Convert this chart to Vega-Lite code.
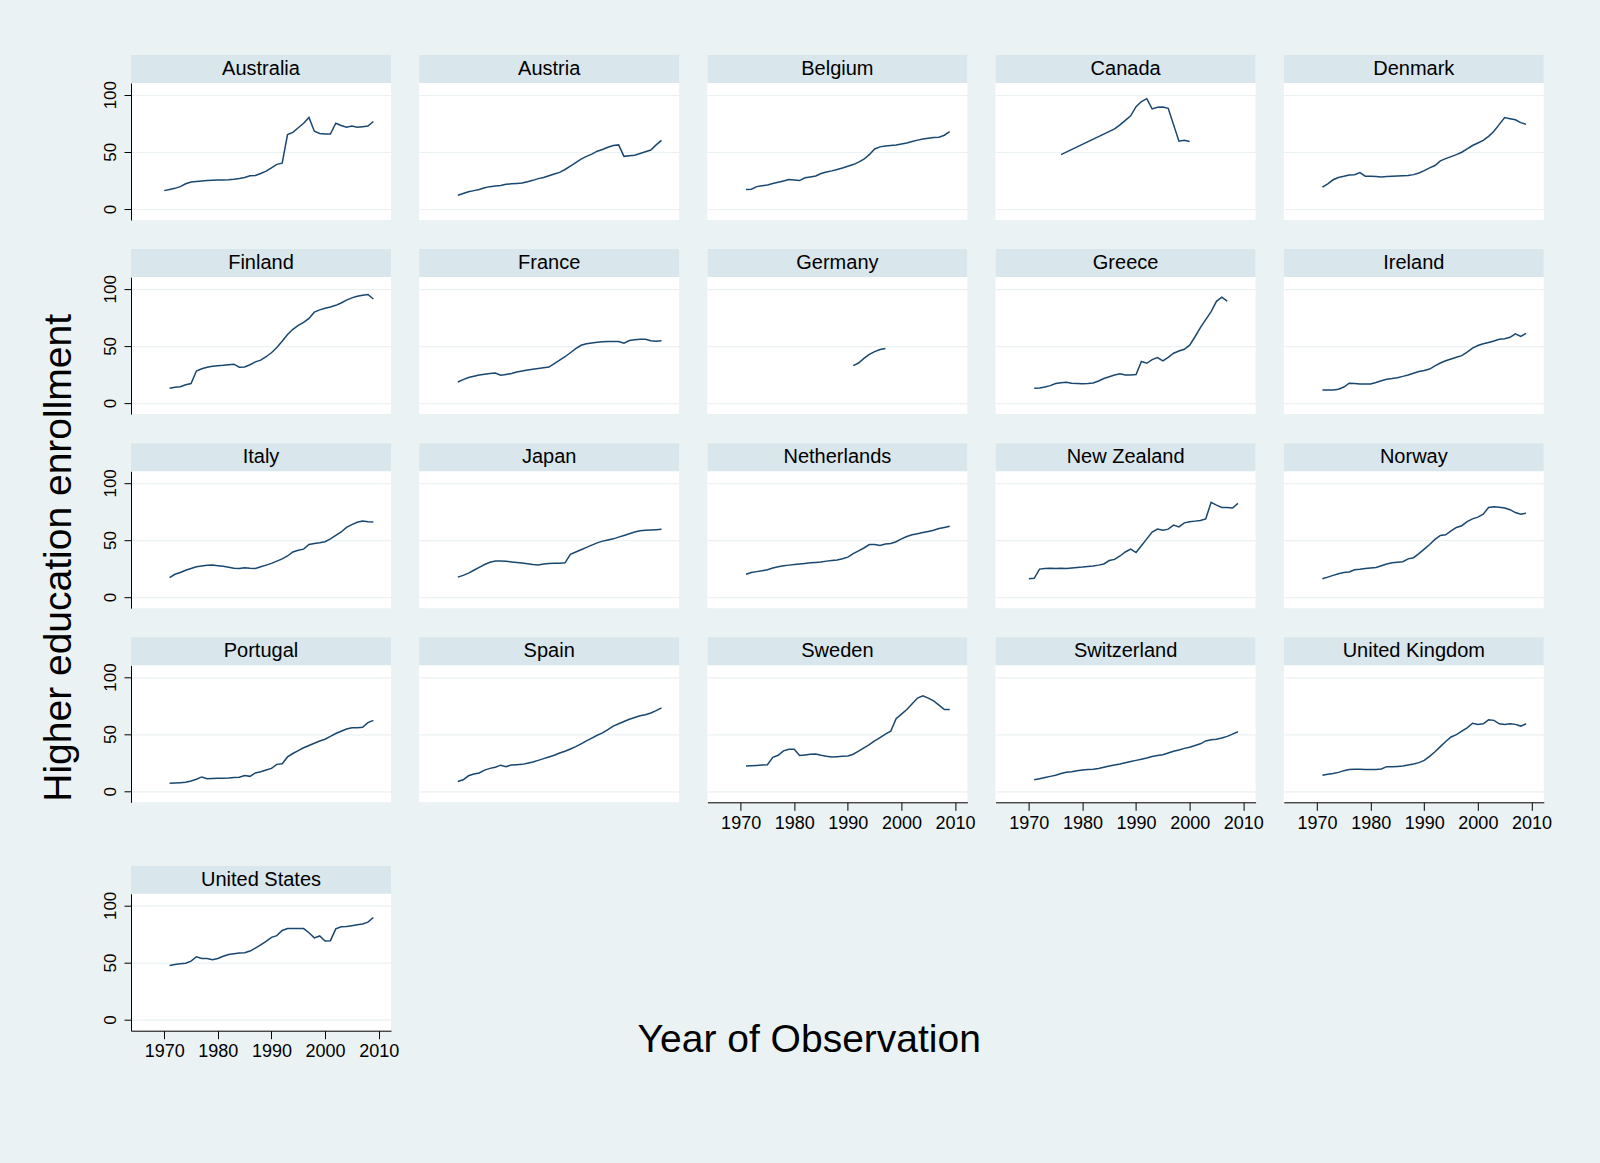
{
  "$schema": "https://vega.github.io/schema/vega-lite/v6.json",
  "background": "#EAF2F3",
  "padding": {"left": 39, "top": 55, "right": 51, "bottom": 105},
  "autosize": {"type": "pad"},
  "config": {
    "font": "Liberation Sans",
    "view": {"stroke": null, "fill": "#FFFFFF"},
    "axis": {"domainColor": "#000000", "tickColor": "#000000", "labelColor": "#000000", "labelFont": "Liberation Sans", "labelFontSize": 17, "gridColor": "#EAF2F3", "gridWidth": 1.2, "domainWidth": 1, "tickWidth": 1},
    "title": {"font": "Liberation Sans", "fontSize": 39, "fontWeight": "normal", "color": "#000000"}
  },
  "datasets": {
    "enroll": [
      {"country":"Australia","year":1970,"value":16},{"country":"Australia","year":1971,"value":17},{"country":"Australia","year":1972,"value":18},{"country":"Australia","year":1973,"value":19.5},{"country":"Australia","year":1974,"value":22},{"country":"Australia","year":1975,"value":23.5},{"country":"Australia","year":1976,"value":24},{"country":"Australia","year":1977,"value":24.5},{"country":"Australia","year":1978,"value":24.8},{"country":"Australia","year":1979,"value":25},{"country":"Australia","year":1980,"value":25.2},{"country":"Australia","year":1981,"value":25.4},{"country":"Australia","year":1982,"value":25.6},{"country":"Australia","year":1983,"value":26},{"country":"Australia","year":1984,"value":26.6},{"country":"Australia","year":1985,"value":27.5},{"country":"Australia","year":1986,"value":29},{"country":"Australia","year":1987,"value":29.2},{"country":"Australia","year":1988,"value":31},{"country":"Australia","year":1989,"value":33},{"country":"Australia","year":1990,"value":36},{"country":"Australia","year":1991,"value":39},{"country":"Australia","year":1992,"value":40},{"country":"Australia","year":1993,"value":65},{"country":"Australia","year":1994,"value":67},{"country":"Australia","year":1995,"value":71},{"country":"Australia","year":1996,"value":75},{"country":"Australia","year":1997,"value":80},{"country":"Australia","year":1998,"value":68},{"country":"Australia","year":1999,"value":66},{"country":"Australia","year":2000,"value":65.5},{"country":"Australia","year":2001,"value":65.5},{"country":"Australia","year":2002,"value":75},{"country":"Australia","year":2003,"value":73},{"country":"Australia","year":2004,"value":71.5},{"country":"Australia","year":2005,"value":72.5},{"country":"Australia","year":2006,"value":71.5},{"country":"Australia","year":2007,"value":72},{"country":"Australia","year":2008,"value":72.5},{"country":"Australia","year":2009,"value":76.5},
      {"country":"Austria","year":1971,"value":12},{"country":"Austria","year":1972,"value":13.5},{"country":"Austria","year":1973,"value":15},{"country":"Austria","year":1974,"value":16},{"country":"Austria","year":1975,"value":17},{"country":"Austria","year":1976,"value":18.5},{"country":"Austria","year":1977,"value":19.5},{"country":"Austria","year":1978,"value":20},{"country":"Austria","year":1979,"value":20.5},{"country":"Austria","year":1980,"value":21.5},{"country":"Austria","year":1981,"value":22},{"country":"Austria","year":1982,"value":22.3},{"country":"Austria","year":1983,"value":22.7},{"country":"Austria","year":1984,"value":23.8},{"country":"Austria","year":1985,"value":25},{"country":"Austria","year":1986,"value":26.5},{"country":"Austria","year":1987,"value":27.5},{"country":"Austria","year":1988,"value":29},{"country":"Austria","year":1989,"value":30.5},{"country":"Austria","year":1990,"value":32},{"country":"Austria","year":1991,"value":34.5},{"country":"Austria","year":1992,"value":37.5},{"country":"Austria","year":1993,"value":40.5},{"country":"Austria","year":1994,"value":43.5},{"country":"Austria","year":1995,"value":46},{"country":"Austria","year":1996,"value":48},{"country":"Austria","year":1997,"value":50.5},{"country":"Austria","year":1998,"value":52},{"country":"Austria","year":1999,"value":54},{"country":"Austria","year":2000,"value":55.5},{"country":"Austria","year":2001,"value":56},{"country":"Austria","year":2002,"value":46},{"country":"Austria","year":2003,"value":46.5},{"country":"Austria","year":2004,"value":47},{"country":"Austria","year":2005,"value":48.5},{"country":"Austria","year":2006,"value":50},{"country":"Austria","year":2007,"value":51.5},{"country":"Austria","year":2008,"value":56},{"country":"Austria","year":2009,"value":60},
      {"country":"Belgium","year":1971,"value":17},{"country":"Belgium","year":1972,"value":17.3},{"country":"Belgium","year":1973,"value":19.5},{"country":"Belgium","year":1974,"value":20.3},{"country":"Belgium","year":1975,"value":21},{"country":"Belgium","year":1976,"value":22.2},{"country":"Belgium","year":1977,"value":23.3},{"country":"Belgium","year":1978,"value":24.5},{"country":"Belgium","year":1979,"value":25.7},{"country":"Belgium","year":1980,"value":25.3},{"country":"Belgium","year":1981,"value":24.8},{"country":"Belgium","year":1982,"value":27.2},{"country":"Belgium","year":1983,"value":28},{"country":"Belgium","year":1984,"value":28.8},{"country":"Belgium","year":1985,"value":31},{"country":"Belgium","year":1986,"value":32.3},{"country":"Belgium","year":1987,"value":33.3},{"country":"Belgium","year":1988,"value":34.5},{"country":"Belgium","year":1989,"value":35.8},{"country":"Belgium","year":1990,"value":37.3},{"country":"Belgium","year":1991,"value":38.8},{"country":"Belgium","year":1992,"value":41},{"country":"Belgium","year":1993,"value":43.5},{"country":"Belgium","year":1994,"value":47.5},{"country":"Belgium","year":1995,"value":52.5},{"country":"Belgium","year":1996,"value":54.3},{"country":"Belgium","year":1997,"value":55},{"country":"Belgium","year":1998,"value":55.5},{"country":"Belgium","year":1999,"value":56},{"country":"Belgium","year":2000,"value":56.8},{"country":"Belgium","year":2001,"value":57.7},{"country":"Belgium","year":2002,"value":59},{"country":"Belgium","year":2003,"value":60.2},{"country":"Belgium","year":2004,"value":61.2},{"country":"Belgium","year":2005,"value":61.8},{"country":"Belgium","year":2006,"value":62.4},{"country":"Belgium","year":2007,"value":62.8},{"country":"Belgium","year":2008,"value":64.5},{"country":"Belgium","year":2009,"value":67.6},
      {"country":"Canada","year":1976,"value":47.5},{"country":"Canada","year":1986,"value":70},{"country":"Canada","year":1987,"value":73.5},{"country":"Canada","year":1988,"value":77.5},{"country":"Canada","year":1989,"value":81.5},{"country":"Canada","year":1990,"value":89.5},{"country":"Canada","year":1991,"value":94},{"country":"Canada","year":1992,"value":96.5},{"country":"Canada","year":1993,"value":87.5},{"country":"Canada","year":1994,"value":89},{"country":"Canada","year":1995,"value":89.2},{"country":"Canada","year":1996,"value":88},{"country":"Canada","year":1998,"value":59.2},{"country":"Canada","year":1999,"value":60},{"country":"Canada","year":2000,"value":59},
      {"country":"Denmark","year":1971,"value":19},{"country":"Denmark","year":1972,"value":22},{"country":"Denmark","year":1973,"value":25.5},{"country":"Denmark","year":1974,"value":27.5},{"country":"Denmark","year":1975,"value":28.5},{"country":"Denmark","year":1976,"value":29.7},{"country":"Denmark","year":1977,"value":30},{"country":"Denmark","year":1978,"value":31.8},{"country":"Denmark","year":1979,"value":28.6},{"country":"Denmark","year":1980,"value":28.6},{"country":"Denmark","year":1981,"value":28.4},{"country":"Denmark","year":1982,"value":28},{"country":"Denmark","year":1983,"value":28.3},{"country":"Denmark","year":1984,"value":28.6},{"country":"Denmark","year":1985,"value":28.8},{"country":"Denmark","year":1986,"value":29},{"country":"Denmark","year":1987,"value":29.3},{"country":"Denmark","year":1988,"value":30},{"country":"Denmark","year":1989,"value":31.5},{"country":"Denmark","year":1990,"value":33.5},{"country":"Denmark","year":1991,"value":35.9},{"country":"Denmark","year":1992,"value":38},{"country":"Denmark","year":1993,"value":42},{"country":"Denmark","year":1994,"value":44},{"country":"Denmark","year":1995,"value":45.8},{"country":"Denmark","year":1996,"value":47.5},{"country":"Denmark","year":1997,"value":49.6},{"country":"Denmark","year":1998,"value":52.5},{"country":"Denmark","year":1999,"value":55.5},{"country":"Denmark","year":2000,"value":57.7},{"country":"Denmark","year":2001,"value":60},{"country":"Denmark","year":2002,"value":63.5},{"country":"Denmark","year":2003,"value":68},{"country":"Denmark","year":2004,"value":74},{"country":"Denmark","year":2005,"value":80},{"country":"Denmark","year":2006,"value":79},{"country":"Denmark","year":2007,"value":78},{"country":"Denmark","year":2008,"value":75.5},{"country":"Denmark","year":2009,"value":74},
      {"country":"Finland","year":1971,"value":13},{"country":"Finland","year":1972,"value":13.8},{"country":"Finland","year":1973,"value":14.3},{"country":"Finland","year":1974,"value":16},{"country":"Finland","year":1975,"value":17},{"country":"Finland","year":1976,"value":28},{"country":"Finland","year":1977,"value":30},{"country":"Finland","year":1978,"value":31.3},{"country":"Finland","year":1979,"value":32.2},{"country":"Finland","year":1980,"value":32.7},{"country":"Finland","year":1981,"value":33},{"country":"Finland","year":1982,"value":33.5},{"country":"Finland","year":1983,"value":34},{"country":"Finland","year":1984,"value":31.3},{"country":"Finland","year":1985,"value":31.6},{"country":"Finland","year":1986,"value":33.5},{"country":"Finland","year":1987,"value":36},{"country":"Finland","year":1988,"value":37.5},{"country":"Finland","year":1989,"value":40.5},{"country":"Finland","year":1990,"value":44},{"country":"Finland","year":1991,"value":48.5},{"country":"Finland","year":1992,"value":54},{"country":"Finland","year":1993,"value":60},{"country":"Finland","year":1994,"value":64.5},{"country":"Finland","year":1995,"value":68},{"country":"Finland","year":1996,"value":70.5},{"country":"Finland","year":1997,"value":74},{"country":"Finland","year":1998,"value":79.5},{"country":"Finland","year":1999,"value":81.5},{"country":"Finland","year":2000,"value":83},{"country":"Finland","year":2001,"value":84},{"country":"Finland","year":2002,"value":85.5},{"country":"Finland","year":2003,"value":87.5},{"country":"Finland","year":2004,"value":90},{"country":"Finland","year":2005,"value":92},{"country":"Finland","year":2006,"value":93.5},{"country":"Finland","year":2007,"value":94.3},{"country":"Finland","year":2008,"value":95},{"country":"Finland","year":2009,"value":91},
      {"country":"France","year":1971,"value":18.4},{"country":"France","year":1972,"value":20.5},{"country":"France","year":1973,"value":22.3},{"country":"France","year":1974,"value":23.5},{"country":"France","year":1975,"value":24.5},{"country":"France","year":1976,"value":25.2},{"country":"France","year":1977,"value":25.8},{"country":"France","year":1978,"value":26.3},{"country":"France","year":1979,"value":24.3},{"country":"France","year":1980,"value":25},{"country":"France","year":1981,"value":25.8},{"country":"France","year":1982,"value":27.2},{"country":"France","year":1983,"value":28},{"country":"France","year":1984,"value":28.8},{"country":"France","year":1985,"value":29.5},{"country":"France","year":1986,"value":30.2},{"country":"France","year":1987,"value":30.8},{"country":"France","year":1988,"value":31.5},{"country":"France","year":1989,"value":34.5},{"country":"France","year":1990,"value":37.5},{"country":"France","year":1991,"value":40.5},{"country":"France","year":1992,"value":44},{"country":"France","year":1993,"value":47.5},{"country":"France","year":1994,"value":50.5},{"country":"France","year":1995,"value":51.8},{"country":"France","year":1996,"value":52.6},{"country":"France","year":1997,"value":53.2},{"country":"France","year":1998,"value":53.6},{"country":"France","year":1999,"value":53.8},{"country":"France","year":2000,"value":53.8},{"country":"France","year":2001,"value":53.8},{"country":"France","year":2002,"value":52.3},{"country":"France","year":2003,"value":54.7},{"country":"France","year":2004,"value":55.3},{"country":"France","year":2005,"value":55.7},{"country":"France","year":2006,"value":55.8},{"country":"France","year":2007,"value":54.5},{"country":"France","year":2008,"value":54.1},{"country":"France","year":2009,"value":54.4},
      {"country":"Germany","year":1991,"value":32.7},{"country":"Germany","year":1992,"value":35},{"country":"Germany","year":1993,"value":39},{"country":"Germany","year":1994,"value":42.5},{"country":"Germany","year":1995,"value":45},{"country":"Germany","year":1996,"value":46.8},{"country":"Germany","year":1997,"value":47.7},
      {"country":"Greece","year":1971,"value":13},{"country":"Greece","year":1972,"value":13.2},{"country":"Greece","year":1973,"value":14},{"country":"Greece","year":1974,"value":15.2},{"country":"Greece","year":1975,"value":17},{"country":"Greece","year":1976,"value":17.8},{"country":"Greece","year":1977,"value":18.1},{"country":"Greece","year":1978,"value":17.3},{"country":"Greece","year":1979,"value":17},{"country":"Greece","year":1980,"value":16.8},{"country":"Greece","year":1981,"value":17},{"country":"Greece","year":1982,"value":17.5},{"country":"Greece","year":1983,"value":19.3},{"country":"Greece","year":1984,"value":21.5},{"country":"Greece","year":1985,"value":23},{"country":"Greece","year":1986,"value":24.5},{"country":"Greece","year":1987,"value":25.7},{"country":"Greece","year":1988,"value":24.6},{"country":"Greece","year":1989,"value":24.5},{"country":"Greece","year":1990,"value":25},{"country":"Greece","year":1991,"value":36.3},{"country":"Greece","year":1992,"value":34.8},{"country":"Greece","year":1993,"value":38},{"country":"Greece","year":1994,"value":39.8},{"country":"Greece","year":1995,"value":36.8},{"country":"Greece","year":1996,"value":40},{"country":"Greece","year":1997,"value":43.6},{"country":"Greece","year":1998,"value":45.5},{"country":"Greece","year":1999,"value":47},{"country":"Greece","year":2000,"value":50.6},{"country":"Greece","year":2001,"value":58},{"country":"Greece","year":2002,"value":66},{"country":"Greece","year":2003,"value":73},{"country":"Greece","year":2004,"value":80},{"country":"Greece","year":2005,"value":89},{"country":"Greece","year":2006,"value":92.7},{"country":"Greece","year":2007,"value":89.2},
      {"country":"Ireland","year":1971,"value":11.4},{"country":"Ireland","year":1972,"value":11.4},{"country":"Ireland","year":1973,"value":11.5},{"country":"Ireland","year":1974,"value":12},{"country":"Ireland","year":1975,"value":14},{"country":"Ireland","year":1976,"value":17.3},{"country":"Ireland","year":1977,"value":17},{"country":"Ireland","year":1978,"value":16.7},{"country":"Ireland","year":1979,"value":16.6},{"country":"Ireland","year":1980,"value":16.7},{"country":"Ireland","year":1981,"value":18},{"country":"Ireland","year":1982,"value":19.5},{"country":"Ireland","year":1983,"value":20.8},{"country":"Ireland","year":1984,"value":21.4},{"country":"Ireland","year":1985,"value":22.2},{"country":"Ireland","year":1986,"value":23.3},{"country":"Ireland","year":1987,"value":24.5},{"country":"Ireland","year":1988,"value":26},{"country":"Ireland","year":1989,"value":27.5},{"country":"Ireland","year":1990,"value":28.5},{"country":"Ireland","year":1991,"value":29.7},{"country":"Ireland","year":1992,"value":32.5},{"country":"Ireland","year":1993,"value":35},{"country":"Ireland","year":1994,"value":37},{"country":"Ireland","year":1995,"value":38.5},{"country":"Ireland","year":1996,"value":40},{"country":"Ireland","year":1997,"value":41.5},{"country":"Ireland","year":1998,"value":44.5},{"country":"Ireland","year":1999,"value":48},{"country":"Ireland","year":2000,"value":50.3},{"country":"Ireland","year":2001,"value":51.8},{"country":"Ireland","year":2002,"value":53},{"country":"Ireland","year":2003,"value":54.3},{"country":"Ireland","year":2004,"value":55.8},{"country":"Ireland","year":2005,"value":56.3},{"country":"Ireland","year":2006,"value":57.5},{"country":"Ireland","year":2007,"value":60.5},{"country":"Ireland","year":2008,"value":58.2},{"country":"Ireland","year":2009,"value":61},
      {"country":"Italy","year":1971,"value":17},{"country":"Italy","year":1972,"value":20},{"country":"Italy","year":1973,"value":21.5},{"country":"Italy","year":1974,"value":23.5},{"country":"Italy","year":1975,"value":25},{"country":"Italy","year":1976,"value":26.5},{"country":"Italy","year":1977,"value":27.2},{"country":"Italy","year":1978,"value":27.8},{"country":"Italy","year":1979,"value":28},{"country":"Italy","year":1980,"value":27.5},{"country":"Italy","year":1981,"value":27},{"country":"Italy","year":1982,"value":26.2},{"country":"Italy","year":1983,"value":25.3},{"country":"Italy","year":1984,"value":25},{"country":"Italy","year":1985,"value":25.8},{"country":"Italy","year":1986,"value":25.3},{"country":"Italy","year":1987,"value":25},{"country":"Italy","year":1988,"value":26.5},{"country":"Italy","year":1989,"value":28},{"country":"Italy","year":1990,"value":29.5},{"country":"Italy","year":1991,"value":31.5},{"country":"Italy","year":1992,"value":33.5},{"country":"Italy","year":1993,"value":36},{"country":"Italy","year":1994,"value":39.5},{"country":"Italy","year":1995,"value":41},{"country":"Italy","year":1996,"value":42},{"country":"Italy","year":1997,"value":46},{"country":"Italy","year":1998,"value":47},{"country":"Italy","year":1999,"value":47.5},{"country":"Italy","year":2000,"value":48.5},{"country":"Italy","year":2001,"value":51},{"country":"Italy","year":2002,"value":54},{"country":"Italy","year":2003,"value":57},{"country":"Italy","year":2004,"value":61},{"country":"Italy","year":2005,"value":63.5},{"country":"Italy","year":2006,"value":65.5},{"country":"Italy","year":2007,"value":66.5},{"country":"Italy","year":2008,"value":66},{"country":"Italy","year":2009,"value":65.8},
      {"country":"Japan","year":1971,"value":17.5},{"country":"Japan","year":1972,"value":19},{"country":"Japan","year":1973,"value":21},{"country":"Japan","year":1974,"value":23.5},{"country":"Japan","year":1975,"value":26},{"country":"Japan","year":1976,"value":28.5},{"country":"Japan","year":1977,"value":30.5},{"country":"Japan","year":1978,"value":31.5},{"country":"Japan","year":1979,"value":31.6},{"country":"Japan","year":1980,"value":31.4},{"country":"Japan","year":1981,"value":30.8},{"country":"Japan","year":1982,"value":30.3},{"country":"Japan","year":1983,"value":29.8},{"country":"Japan","year":1984,"value":29.3},{"country":"Japan","year":1985,"value":28.5},{"country":"Japan","year":1986,"value":28.2},{"country":"Japan","year":1987,"value":29},{"country":"Japan","year":1988,"value":29.5},{"country":"Japan","year":1989,"value":29.6},{"country":"Japan","year":1990,"value":29.7},{"country":"Japan","year":1991,"value":30},{"country":"Japan","year":1992,"value":37.5},{"country":"Japan","year":1993,"value":39.5},{"country":"Japan","year":1994,"value":41.5},{"country":"Japan","year":1995,"value":43.5},{"country":"Japan","year":1996,"value":45.5},{"country":"Japan","year":1997,"value":47.5},{"country":"Japan","year":1998,"value":49},{"country":"Japan","year":1999,"value":50},{"country":"Japan","year":2000,"value":51},{"country":"Japan","year":2001,"value":52.5},{"country":"Japan","year":2002,"value":54},{"country":"Japan","year":2003,"value":55.5},{"country":"Japan","year":2004,"value":57},{"country":"Japan","year":2005,"value":58},{"country":"Japan","year":2006,"value":58.5},{"country":"Japan","year":2007,"value":58.7},{"country":"Japan","year":2008,"value":59},{"country":"Japan","year":2009,"value":59.3},
      {"country":"Netherlands","year":1971,"value":20},{"country":"Netherlands","year":1972,"value":21.5},{"country":"Netherlands","year":1973,"value":22.3},{"country":"Netherlands","year":1974,"value":23},{"country":"Netherlands","year":1975,"value":24},{"country":"Netherlands","year":1976,"value":25.5},{"country":"Netherlands","year":1977,"value":26.5},{"country":"Netherlands","year":1978,"value":27.5},{"country":"Netherlands","year":1979,"value":28},{"country":"Netherlands","year":1980,"value":28.5},{"country":"Netherlands","year":1981,"value":29},{"country":"Netherlands","year":1982,"value":29.5},{"country":"Netherlands","year":1983,"value":30},{"country":"Netherlands","year":1984,"value":30.3},{"country":"Netherlands","year":1985,"value":30.7},{"country":"Netherlands","year":1986,"value":31.5},{"country":"Netherlands","year":1987,"value":32},{"country":"Netherlands","year":1988,"value":32.5},{"country":"Netherlands","year":1989,"value":33.5},{"country":"Netherlands","year":1990,"value":35},{"country":"Netherlands","year":1991,"value":38},{"country":"Netherlands","year":1992,"value":40.5},{"country":"Netherlands","year":1993,"value":43},{"country":"Netherlands","year":1994,"value":46},{"country":"Netherlands","year":1995,"value":46},{"country":"Netherlands","year":1996,"value":45.2},{"country":"Netherlands","year":1997,"value":46.5},{"country":"Netherlands","year":1998,"value":47},{"country":"Netherlands","year":1999,"value":48.5},{"country":"Netherlands","year":2000,"value":51},{"country":"Netherlands","year":2001,"value":53},{"country":"Netherlands","year":2002,"value":54.5},{"country":"Netherlands","year":2003,"value":55.5},{"country":"Netherlands","year":2004,"value":56.5},{"country":"Netherlands","year":2005,"value":57.5},{"country":"Netherlands","year":2006,"value":58.5},{"country":"Netherlands","year":2007,"value":60},{"country":"Netherlands","year":2008,"value":61},{"country":"Netherlands","year":2009,"value":62},
      {"country":"New Zealand","year":1970,"value":16},{"country":"New Zealand","year":1971,"value":16.5},{"country":"New Zealand","year":1972,"value":24.5},{"country":"New Zealand","year":1973,"value":25},{"country":"New Zealand","year":1974,"value":25.3},{"country":"New Zealand","year":1975,"value":25},{"country":"New Zealand","year":1976,"value":25.3},{"country":"New Zealand","year":1977,"value":25},{"country":"New Zealand","year":1978,"value":25.5},{"country":"New Zealand","year":1979,"value":26},{"country":"New Zealand","year":1980,"value":26.3},{"country":"New Zealand","year":1981,"value":26.8},{"country":"New Zealand","year":1982,"value":27.2},{"country":"New Zealand","year":1983,"value":28},{"country":"New Zealand","year":1984,"value":29},{"country":"New Zealand","year":1985,"value":32},{"country":"New Zealand","year":1986,"value":33},{"country":"New Zealand","year":1987,"value":36},{"country":"New Zealand","year":1988,"value":39.5},{"country":"New Zealand","year":1989,"value":42},{"country":"New Zealand","year":1990,"value":39},{"country":"New Zealand","year":1991,"value":45},{"country":"New Zealand","year":1992,"value":51},{"country":"New Zealand","year":1993,"value":57},{"country":"New Zealand","year":1994,"value":59.5},{"country":"New Zealand","year":1995,"value":58.5},{"country":"New Zealand","year":1996,"value":59.5},{"country":"New Zealand","year":1997,"value":63},{"country":"New Zealand","year":1998,"value":61.5},{"country":"New Zealand","year":1999,"value":65},{"country":"New Zealand","year":2000,"value":66},{"country":"New Zealand","year":2001,"value":66.5},{"country":"New Zealand","year":2002,"value":67},{"country":"New Zealand","year":2003,"value":68.5},{"country":"New Zealand","year":2004,"value":83},{"country":"New Zealand","year":2005,"value":80.5},{"country":"New Zealand","year":2006,"value":78.5},{"country":"New Zealand","year":2007,"value":78.5},{"country":"New Zealand","year":2008,"value":78},{"country":"New Zealand","year":2009,"value":82},
      {"country":"Norway","year":1971,"value":16},{"country":"Norway","year":1972,"value":17.5},{"country":"Norway","year":1973,"value":19},{"country":"Norway","year":1974,"value":20.5},{"country":"Norway","year":1975,"value":21.5},{"country":"Norway","year":1976,"value":22},{"country":"Norway","year":1977,"value":24},{"country":"Norway","year":1978,"value":24.3},{"country":"Norway","year":1979,"value":25},{"country":"Norway","year":1980,"value":25.5},{"country":"Norway","year":1981,"value":26},{"country":"Norway","year":1982,"value":27.5},{"country":"Norway","year":1983,"value":29},{"country":"Norway","year":1984,"value":30},{"country":"Norway","year":1985,"value":30.5},{"country":"Norway","year":1986,"value":31},{"country":"Norway","year":1987,"value":33.5},{"country":"Norway","year":1988,"value":34.5},{"country":"Norway","year":1989,"value":38},{"country":"Norway","year":1990,"value":42},{"country":"Norway","year":1991,"value":46},{"country":"Norway","year":1992,"value":50.5},{"country":"Norway","year":1993,"value":54},{"country":"Norway","year":1994,"value":54.5},{"country":"Norway","year":1995,"value":58},{"country":"Norway","year":1996,"value":61},{"country":"Norway","year":1997,"value":62.5},{"country":"Norway","year":1998,"value":66},{"country":"Norway","year":1999,"value":68.5},{"country":"Norway","year":2000,"value":70},{"country":"Norway","year":2001,"value":72.5},{"country":"Norway","year":2002,"value":78.5},{"country":"Norway","year":2003,"value":79},{"country":"Norway","year":2004,"value":78.7},{"country":"Norway","year":2005,"value":78},{"country":"Norway","year":2006,"value":76.5},{"country":"Norway","year":2007,"value":74},{"country":"Norway","year":2008,"value":72.5},{"country":"Norway","year":2009,"value":73.5},
      {"country":"Portugal","year":1971,"value":7},{"country":"Portugal","year":1972,"value":7.2},{"country":"Portugal","year":1973,"value":7.5},{"country":"Portugal","year":1974,"value":7.8},{"country":"Portugal","year":1975,"value":9},{"country":"Portugal","year":1976,"value":10.5},{"country":"Portugal","year":1977,"value":12.5},{"country":"Portugal","year":1978,"value":11},{"country":"Portugal","year":1979,"value":11.2},{"country":"Portugal","year":1980,"value":11.3},{"country":"Portugal","year":1981,"value":11.3},{"country":"Portugal","year":1982,"value":11.5},{"country":"Portugal","year":1983,"value":12},{"country":"Portugal","year":1984,"value":12.2},{"country":"Portugal","year":1985,"value":13.8},{"country":"Portugal","year":1986,"value":13},{"country":"Portugal","year":1987,"value":16},{"country":"Portugal","year":1988,"value":17},{"country":"Portugal","year":1989,"value":18.5},{"country":"Portugal","year":1990,"value":20},{"country":"Portugal","year":1991,"value":23.5},{"country":"Portugal","year":1992,"value":24},{"country":"Portugal","year":1993,"value":30},{"country":"Portugal","year":1994,"value":33},{"country":"Portugal","year":1995,"value":35.5},{"country":"Portugal","year":1996,"value":38},{"country":"Portugal","year":1997,"value":40},{"country":"Portugal","year":1998,"value":42},{"country":"Portugal","year":1999,"value":44},{"country":"Portugal","year":2000,"value":45.5},{"country":"Portugal","year":2001,"value":48},{"country":"Portugal","year":2002,"value":50.5},{"country":"Portugal","year":2003,"value":52.5},{"country":"Portugal","year":2004,"value":54.5},{"country":"Portugal","year":2005,"value":55.5},{"country":"Portugal","year":2006,"value":55.5},{"country":"Portugal","year":2007,"value":56},{"country":"Portugal","year":2008,"value":60},{"country":"Portugal","year":2009,"value":62},
      {"country":"Spain","year":1971,"value":8.5},{"country":"Spain","year":1972,"value":10},{"country":"Spain","year":1973,"value":13.5},{"country":"Spain","year":1974,"value":15},{"country":"Spain","year":1975,"value":16},{"country":"Spain","year":1976,"value":18.5},{"country":"Spain","year":1977,"value":20},{"country":"Spain","year":1978,"value":21},{"country":"Spain","year":1979,"value":22.8},{"country":"Spain","year":1980,"value":21.5},{"country":"Spain","year":1981,"value":23},{"country":"Spain","year":1982,"value":23.2},{"country":"Spain","year":1983,"value":23.5},{"country":"Spain","year":1984,"value":24.5},{"country":"Spain","year":1985,"value":25.5},{"country":"Spain","year":1986,"value":27},{"country":"Spain","year":1987,"value":28.5},{"country":"Spain","year":1988,"value":30},{"country":"Spain","year":1989,"value":31.5},{"country":"Spain","year":1990,"value":33.5},{"country":"Spain","year":1991,"value":35},{"country":"Spain","year":1992,"value":37},{"country":"Spain","year":1993,"value":39},{"country":"Spain","year":1994,"value":41.5},{"country":"Spain","year":1995,"value":44},{"country":"Spain","year":1996,"value":46.5},{"country":"Spain","year":1997,"value":49},{"country":"Spain","year":1998,"value":51},{"country":"Spain","year":1999,"value":54},{"country":"Spain","year":2000,"value":57},{"country":"Spain","year":2001,"value":59},{"country":"Spain","year":2002,"value":61},{"country":"Spain","year":2003,"value":63},{"country":"Spain","year":2004,"value":64.5},{"country":"Spain","year":2005,"value":66},{"country":"Spain","year":2006,"value":67},{"country":"Spain","year":2007,"value":68.5},{"country":"Spain","year":2008,"value":70.5},{"country":"Spain","year":2009,"value":73},
      {"country":"Sweden","year":1971,"value":22},{"country":"Sweden","year":1972,"value":22.3},{"country":"Sweden","year":1973,"value":22.6},{"country":"Sweden","year":1974,"value":22.9},{"country":"Sweden","year":1975,"value":23.2},{"country":"Sweden","year":1976,"value":29.7},{"country":"Sweden","year":1977,"value":31.5},{"country":"Sweden","year":1978,"value":35.3},{"country":"Sweden","year":1979,"value":36.8},{"country":"Sweden","year":1980,"value":36.8},{"country":"Sweden","year":1981,"value":31.3},{"country":"Sweden","year":1982,"value":31.8},{"country":"Sweden","year":1983,"value":32.3},{"country":"Sweden","year":1984,"value":32.6},{"country":"Sweden","year":1985,"value":31.5},{"country":"Sweden","year":1986,"value":30.6},{"country":"Sweden","year":1987,"value":30},{"country":"Sweden","year":1988,"value":30.2},{"country":"Sweden","year":1989,"value":30.5},{"country":"Sweden","year":1990,"value":30.9},{"country":"Sweden","year":1991,"value":32.4},{"country":"Sweden","year":1992,"value":35},{"country":"Sweden","year":1993,"value":38},{"country":"Sweden","year":1994,"value":40.8},{"country":"Sweden","year":1995,"value":44},{"country":"Sweden","year":1996,"value":47},{"country":"Sweden","year":1997,"value":50},{"country":"Sweden","year":1998,"value":52.5},{"country":"Sweden","year":1999,"value":63.5},{"country":"Sweden","year":2000,"value":67.5},{"country":"Sweden","year":2001,"value":71.5},{"country":"Sweden","year":2002,"value":76.5},{"country":"Sweden","year":2003,"value":81.5},{"country":"Sweden","year":2004,"value":83.5},{"country":"Sweden","year":2005,"value":81.5},{"country":"Sweden","year":2006,"value":79},{"country":"Sweden","year":2007,"value":75.3},{"country":"Sweden","year":2008,"value":71.5},{"country":"Sweden","year":2009,"value":71.5},
      {"country":"Switzerland","year":1971,"value":10},{"country":"Switzerland","year":1972,"value":11},{"country":"Switzerland","year":1973,"value":12},{"country":"Switzerland","year":1974,"value":13},{"country":"Switzerland","year":1975,"value":14},{"country":"Switzerland","year":1976,"value":15.5},{"country":"Switzerland","year":1977,"value":16.5},{"country":"Switzerland","year":1978,"value":17},{"country":"Switzerland","year":1979,"value":18},{"country":"Switzerland","year":1980,"value":18.5},{"country":"Switzerland","year":1981,"value":19},{"country":"Switzerland","year":1982,"value":19.3},{"country":"Switzerland","year":1983,"value":19.8},{"country":"Switzerland","year":1984,"value":21},{"country":"Switzerland","year":1985,"value":22},{"country":"Switzerland","year":1986,"value":23},{"country":"Switzerland","year":1987,"value":23.8},{"country":"Switzerland","year":1988,"value":25},{"country":"Switzerland","year":1989,"value":26},{"country":"Switzerland","year":1990,"value":27},{"country":"Switzerland","year":1991,"value":28},{"country":"Switzerland","year":1992,"value":29},{"country":"Switzerland","year":1993,"value":30.3},{"country":"Switzerland","year":1994,"value":31.3},{"country":"Switzerland","year":1995,"value":32},{"country":"Switzerland","year":1996,"value":33.5},{"country":"Switzerland","year":1997,"value":35},{"country":"Switzerland","year":1998,"value":36},{"country":"Switzerland","year":1999,"value":37.5},{"country":"Switzerland","year":2000,"value":38.5},{"country":"Switzerland","year":2001,"value":40},{"country":"Switzerland","year":2002,"value":41.5},{"country":"Switzerland","year":2003,"value":44},{"country":"Switzerland","year":2004,"value":45},{"country":"Switzerland","year":2005,"value":45.5},{"country":"Switzerland","year":2006,"value":46.5},{"country":"Switzerland","year":2007,"value":48},{"country":"Switzerland","year":2008,"value":50},{"country":"Switzerland","year":2009,"value":52},
      {"country":"United Kingdom","year":1971,"value":14},{"country":"United Kingdom","year":1972,"value":14.8},{"country":"United Kingdom","year":1973,"value":15.5},{"country":"United Kingdom","year":1974,"value":16.5},{"country":"United Kingdom","year":1975,"value":18},{"country":"United Kingdom","year":1976,"value":19},{"country":"United Kingdom","year":1977,"value":19.2},{"country":"United Kingdom","year":1978,"value":19.2},{"country":"United Kingdom","year":1979,"value":19},{"country":"United Kingdom","year":1980,"value":19},{"country":"United Kingdom","year":1981,"value":19},{"country":"United Kingdom","year":1982,"value":19.5},{"country":"United Kingdom","year":1983,"value":21.5},{"country":"United Kingdom","year":1984,"value":21.5},{"country":"United Kingdom","year":1985,"value":21.7},{"country":"United Kingdom","year":1986,"value":22},{"country":"United Kingdom","year":1987,"value":23},{"country":"United Kingdom","year":1988,"value":23.8},{"country":"United Kingdom","year":1989,"value":25},{"country":"United Kingdom","year":1990,"value":27},{"country":"United Kingdom","year":1991,"value":30.5},{"country":"United Kingdom","year":1992,"value":34.5},{"country":"United Kingdom","year":1993,"value":39},{"country":"United Kingdom","year":1994,"value":43.5},{"country":"United Kingdom","year":1995,"value":47.5},{"country":"United Kingdom","year":1996,"value":49.5},{"country":"United Kingdom","year":1997,"value":52.5},{"country":"United Kingdom","year":1998,"value":55.5},{"country":"United Kingdom","year":1999,"value":59.5},{"country":"United Kingdom","year":2000,"value":58.5},{"country":"United Kingdom","year":2001,"value":59},{"country":"United Kingdom","year":2002,"value":62.5},{"country":"United Kingdom","year":2003,"value":62},{"country":"United Kingdom","year":2004,"value":59},{"country":"United Kingdom","year":2005,"value":58.5},{"country":"United Kingdom","year":2006,"value":59},{"country":"United Kingdom","year":2007,"value":58.5},{"country":"United Kingdom","year":2008,"value":57},{"country":"United Kingdom","year":2009,"value":59},
      {"country":"United States","year":1971,"value":47.4},{"country":"United States","year":1972,"value":48.2},{"country":"United States","year":1973,"value":48.8},{"country":"United States","year":1974,"value":49.3},{"country":"United States","year":1975,"value":51.2},{"country":"United States","year":1976,"value":55},{"country":"United States","year":1977,"value":53.5},{"country":"United States","year":1978,"value":53.5},{"country":"United States","year":1979,"value":52.4},{"country":"United States","year":1980,"value":53.5},{"country":"United States","year":1981,"value":55.5},{"country":"United States","year":1982,"value":57},{"country":"United States","year":1983,"value":57.6},{"country":"United States","year":1984,"value":58.2},{"country":"United States","year":1985,"value":58.6},{"country":"United States","year":1986,"value":60},{"country":"United States","year":1987,"value":62.5},{"country":"United States","year":1988,"value":65.5},{"country":"United States","year":1989,"value":68.5},{"country":"United States","year":1990,"value":72},{"country":"United States","year":1991,"value":73.5},{"country":"United States","year":1992,"value":78},{"country":"United States","year":1993,"value":79.7},{"country":"United States","year":1994,"value":79.8},{"country":"United States","year":1995,"value":79.8},{"country":"United States","year":1996,"value":79.7},{"country":"United States","year":1997,"value":76},{"country":"United States","year":1998,"value":71.5},{"country":"United States","year":1999,"value":73.2},{"country":"United States","year":2000,"value":68.8},{"country":"United States","year":2001,"value":69.1},{"country":"United States","year":2002,"value":79.4},{"country":"United States","year":2003,"value":81.2},{"country":"United States","year":2004,"value":81.5},{"country":"United States","year":2005,"value":82.2},{"country":"United States","year":2006,"value":83},{"country":"United States","year":2007,"value":83.7},{"country":"United States","year":2008,"value":85.3},{"country":"United States","year":2009,"value":89.4}
    ]
  },
  "data": {"name": "enroll"},
  "title": {"text": "Higher education enrollment", "orient": "left", "anchor": "middle", "offset": 22},
  "vconcat": [
    {
      "title": {"text": "Year of Observation", "orient": "bottom", "anchor": "middle", "dy": -44, "dx": -17},
      "spacing": 32.7,
      "vconcat": [
        {
          "spacing": 29.1,
          "vconcat": [
            {"spacing": 28.2, "hconcat": [
              {"width": 260, "height": 165, "transform": [{"filter": {"field": "country", "equal": "Australia"}}], "layer": [
                {"transform": [{"aggregate": [{"op": "count", "as": "n"}], "groupby": ["country"]}], "mark": {"type": "rect", "color": "#D9E6EB"}, "encoding": {"x": {"datum": 1963.8, "type": "quantitative", "axis": null}, "x2": {"datum": 2012.3}, "y": {"datum": 110.2, "type": "quantitative", "axis": {"orient": "left", "values": [0, 50, 100], "title": null, "labelAngle": 270, "labelAlign": "center", "labelBaseline": "bottom", "tickSize": 7, "labelPadding": 5, "grid": true, "domainDash": [137, 200]}}, "y2": {"datum": 134.7}}},
                {"transform": [{"aggregate": [{"op": "count", "as": "n"}], "groupby": ["country"]}], "mark": {"type": "text", "fontSize": 20, "color": "#000000", "font": "Liberation Sans"}, "encoding": {"x": {"datum": 1988.05, "type": "quantitative", "axis": null}, "y": {"datum": 122.45, "type": "quantitative", "axis": {"orient": "left", "values": [0, 50, 100], "title": null, "labelAngle": 270, "labelAlign": "center", "labelBaseline": "bottom", "tickSize": 7, "labelPadding": 5, "grid": true, "domainDash": [137, 200]}}, "text": {"field": "country"}}},
                {"mark": {"type": "line", "color": "#1A476F", "strokeWidth": 1.5}, "encoding": {"x": {"field": "year", "type": "quantitative", "scale": {"domain": [1963.8, 2012.3], "nice": false, "zero": false}, "axis": null}, "y": {"field": "value", "type": "quantitative", "scale": {"domain": [-9.7, 134.7], "nice": false, "zero": false}, "axis": {"orient": "left", "values": [0, 50, 100], "title": null, "labelAngle": 270, "labelAlign": "center", "labelBaseline": "bottom", "tickSize": 7, "labelPadding": 5, "grid": true, "domainDash": [137, 200]}}}}
              ]},
              {"width": 260, "height": 165, "transform": [{"filter": {"field": "country", "equal": "Austria"}}], "layer": [
                {"transform": [{"aggregate": [{"op": "count", "as": "n"}], "groupby": ["country"]}], "mark": {"type": "rect", "color": "#D9E6EB"}, "encoding": {"x": {"datum": 1963.8, "type": "quantitative", "axis": null}, "x2": {"datum": 2012.3}, "y": {"datum": 110.2, "type": "quantitative", "axis": {"values": [0, 50, 100], "title": null, "labels": false, "ticks": false, "domain": false, "grid": true}}, "y2": {"datum": 134.7}}},
                {"transform": [{"aggregate": [{"op": "count", "as": "n"}], "groupby": ["country"]}], "mark": {"type": "text", "fontSize": 20, "color": "#000000", "font": "Liberation Sans"}, "encoding": {"x": {"datum": 1988.05, "type": "quantitative", "axis": null}, "y": {"datum": 122.45, "type": "quantitative", "axis": {"values": [0, 50, 100], "title": null, "labels": false, "ticks": false, "domain": false, "grid": true}}, "text": {"field": "country"}}},
                {"mark": {"type": "line", "color": "#1A476F", "strokeWidth": 1.5}, "encoding": {"x": {"field": "year", "type": "quantitative", "scale": {"domain": [1963.8, 2012.3], "nice": false, "zero": false}, "axis": null}, "y": {"field": "value", "type": "quantitative", "scale": {"domain": [-9.7, 134.7], "nice": false, "zero": false}, "axis": {"values": [0, 50, 100], "title": null, "labels": false, "ticks": false, "domain": false, "grid": true}}}}
              ]},
              {"width": 260, "height": 165, "transform": [{"filter": {"field": "country", "equal": "Belgium"}}], "layer": [
                {"transform": [{"aggregate": [{"op": "count", "as": "n"}], "groupby": ["country"]}], "mark": {"type": "rect", "color": "#D9E6EB"}, "encoding": {"x": {"datum": 1963.8, "type": "quantitative", "axis": null}, "x2": {"datum": 2012.3}, "y": {"datum": 110.2, "type": "quantitative", "axis": {"values": [0, 50, 100], "title": null, "labels": false, "ticks": false, "domain": false, "grid": true}}, "y2": {"datum": 134.7}}},
                {"transform": [{"aggregate": [{"op": "count", "as": "n"}], "groupby": ["country"]}], "mark": {"type": "text", "fontSize": 20, "color": "#000000", "font": "Liberation Sans"}, "encoding": {"x": {"datum": 1988.05, "type": "quantitative", "axis": null}, "y": {"datum": 122.45, "type": "quantitative", "axis": {"values": [0, 50, 100], "title": null, "labels": false, "ticks": false, "domain": false, "grid": true}}, "text": {"field": "country"}}},
                {"mark": {"type": "line", "color": "#1A476F", "strokeWidth": 1.5}, "encoding": {"x": {"field": "year", "type": "quantitative", "scale": {"domain": [1963.8, 2012.3], "nice": false, "zero": false}, "axis": null}, "y": {"field": "value", "type": "quantitative", "scale": {"domain": [-9.7, 134.7], "nice": false, "zero": false}, "axis": {"values": [0, 50, 100], "title": null, "labels": false, "ticks": false, "domain": false, "grid": true}}}}
              ]},
              {"width": 260, "height": 165, "transform": [{"filter": {"field": "country", "equal": "Canada"}}], "layer": [
                {"transform": [{"aggregate": [{"op": "count", "as": "n"}], "groupby": ["country"]}], "mark": {"type": "rect", "color": "#D9E6EB"}, "encoding": {"x": {"datum": 1963.8, "type": "quantitative", "axis": null}, "x2": {"datum": 2012.3}, "y": {"datum": 110.2, "type": "quantitative", "axis": {"values": [0, 50, 100], "title": null, "labels": false, "ticks": false, "domain": false, "grid": true}}, "y2": {"datum": 134.7}}},
                {"transform": [{"aggregate": [{"op": "count", "as": "n"}], "groupby": ["country"]}], "mark": {"type": "text", "fontSize": 20, "color": "#000000", "font": "Liberation Sans"}, "encoding": {"x": {"datum": 1988.05, "type": "quantitative", "axis": null}, "y": {"datum": 122.45, "type": "quantitative", "axis": {"values": [0, 50, 100], "title": null, "labels": false, "ticks": false, "domain": false, "grid": true}}, "text": {"field": "country"}}},
                {"mark": {"type": "line", "color": "#1A476F", "strokeWidth": 1.5}, "encoding": {"x": {"field": "year", "type": "quantitative", "scale": {"domain": [1963.8, 2012.3], "nice": false, "zero": false}, "axis": null}, "y": {"field": "value", "type": "quantitative", "scale": {"domain": [-9.7, 134.7], "nice": false, "zero": false}, "axis": {"values": [0, 50, 100], "title": null, "labels": false, "ticks": false, "domain": false, "grid": true}}}}
              ]},
              {"width": 260, "height": 165, "transform": [{"filter": {"field": "country", "equal": "Denmark"}}], "layer": [
                {"transform": [{"aggregate": [{"op": "count", "as": "n"}], "groupby": ["country"]}], "mark": {"type": "rect", "color": "#D9E6EB"}, "encoding": {"x": {"datum": 1963.8, "type": "quantitative", "axis": null}, "x2": {"datum": 2012.3}, "y": {"datum": 110.2, "type": "quantitative", "axis": {"values": [0, 50, 100], "title": null, "labels": false, "ticks": false, "domain": false, "grid": true}}, "y2": {"datum": 134.7}}},
                {"transform": [{"aggregate": [{"op": "count", "as": "n"}], "groupby": ["country"]}], "mark": {"type": "text", "fontSize": 20, "color": "#000000", "font": "Liberation Sans"}, "encoding": {"x": {"datum": 1988.05, "type": "quantitative", "axis": null}, "y": {"datum": 122.45, "type": "quantitative", "axis": {"values": [0, 50, 100], "title": null, "labels": false, "ticks": false, "domain": false, "grid": true}}, "text": {"field": "country"}}},
                {"mark": {"type": "line", "color": "#1A476F", "strokeWidth": 1.5}, "encoding": {"x": {"field": "year", "type": "quantitative", "scale": {"domain": [1963.8, 2012.3], "nice": false, "zero": false}, "axis": null}, "y": {"field": "value", "type": "quantitative", "scale": {"domain": [-9.7, 134.7], "nice": false, "zero": false}, "axis": {"values": [0, 50, 100], "title": null, "labels": false, "ticks": false, "domain": false, "grid": true}}}}
              ]}
            ]},
            {"spacing": 28.2, "hconcat": [
              {"width": 260, "height": 165, "transform": [{"filter": {"field": "country", "equal": "Finland"}}], "layer": [
                {"transform": [{"aggregate": [{"op": "count", "as": "n"}], "groupby": ["country"]}], "mark": {"type": "rect", "color": "#D9E6EB"}, "encoding": {"x": {"datum": 1963.8, "type": "quantitative", "axis": null}, "x2": {"datum": 2012.3}, "y": {"datum": 110.2, "type": "quantitative", "axis": {"orient": "left", "values": [0, 50, 100], "title": null, "labelAngle": 270, "labelAlign": "center", "labelBaseline": "bottom", "tickSize": 7, "labelPadding": 5, "grid": true, "domainDash": [137, 200]}}, "y2": {"datum": 134.7}}},
                {"transform": [{"aggregate": [{"op": "count", "as": "n"}], "groupby": ["country"]}], "mark": {"type": "text", "fontSize": 20, "color": "#000000", "font": "Liberation Sans"}, "encoding": {"x": {"datum": 1988.05, "type": "quantitative", "axis": null}, "y": {"datum": 122.45, "type": "quantitative", "axis": {"orient": "left", "values": [0, 50, 100], "title": null, "labelAngle": 270, "labelAlign": "center", "labelBaseline": "bottom", "tickSize": 7, "labelPadding": 5, "grid": true, "domainDash": [137, 200]}}, "text": {"field": "country"}}},
                {"mark": {"type": "line", "color": "#1A476F", "strokeWidth": 1.5}, "encoding": {"x": {"field": "year", "type": "quantitative", "scale": {"domain": [1963.8, 2012.3], "nice": false, "zero": false}, "axis": null}, "y": {"field": "value", "type": "quantitative", "scale": {"domain": [-9.7, 134.7], "nice": false, "zero": false}, "axis": {"orient": "left", "values": [0, 50, 100], "title": null, "labelAngle": 270, "labelAlign": "center", "labelBaseline": "bottom", "tickSize": 7, "labelPadding": 5, "grid": true, "domainDash": [137, 200]}}}}
              ]},
              {"width": 260, "height": 165, "transform": [{"filter": {"field": "country", "equal": "France"}}], "layer": [
                {"transform": [{"aggregate": [{"op": "count", "as": "n"}], "groupby": ["country"]}], "mark": {"type": "rect", "color": "#D9E6EB"}, "encoding": {"x": {"datum": 1963.8, "type": "quantitative", "axis": null}, "x2": {"datum": 2012.3}, "y": {"datum": 110.2, "type": "quantitative", "axis": {"values": [0, 50, 100], "title": null, "labels": false, "ticks": false, "domain": false, "grid": true}}, "y2": {"datum": 134.7}}},
                {"transform": [{"aggregate": [{"op": "count", "as": "n"}], "groupby": ["country"]}], "mark": {"type": "text", "fontSize": 20, "color": "#000000", "font": "Liberation Sans"}, "encoding": {"x": {"datum": 1988.05, "type": "quantitative", "axis": null}, "y": {"datum": 122.45, "type": "quantitative", "axis": {"values": [0, 50, 100], "title": null, "labels": false, "ticks": false, "domain": false, "grid": true}}, "text": {"field": "country"}}},
                {"mark": {"type": "line", "color": "#1A476F", "strokeWidth": 1.5}, "encoding": {"x": {"field": "year", "type": "quantitative", "scale": {"domain": [1963.8, 2012.3], "nice": false, "zero": false}, "axis": null}, "y": {"field": "value", "type": "quantitative", "scale": {"domain": [-9.7, 134.7], "nice": false, "zero": false}, "axis": {"values": [0, 50, 100], "title": null, "labels": false, "ticks": false, "domain": false, "grid": true}}}}
              ]},
              {"width": 260, "height": 165, "transform": [{"filter": {"field": "country", "equal": "Germany"}}], "layer": [
                {"transform": [{"aggregate": [{"op": "count", "as": "n"}], "groupby": ["country"]}], "mark": {"type": "rect", "color": "#D9E6EB"}, "encoding": {"x": {"datum": 1963.8, "type": "quantitative", "axis": null}, "x2": {"datum": 2012.3}, "y": {"datum": 110.2, "type": "quantitative", "axis": {"values": [0, 50, 100], "title": null, "labels": false, "ticks": false, "domain": false, "grid": true}}, "y2": {"datum": 134.7}}},
                {"transform": [{"aggregate": [{"op": "count", "as": "n"}], "groupby": ["country"]}], "mark": {"type": "text", "fontSize": 20, "color": "#000000", "font": "Liberation Sans"}, "encoding": {"x": {"datum": 1988.05, "type": "quantitative", "axis": null}, "y": {"datum": 122.45, "type": "quantitative", "axis": {"values": [0, 50, 100], "title": null, "labels": false, "ticks": false, "domain": false, "grid": true}}, "text": {"field": "country"}}},
                {"mark": {"type": "line", "color": "#1A476F", "strokeWidth": 1.5}, "encoding": {"x": {"field": "year", "type": "quantitative", "scale": {"domain": [1963.8, 2012.3], "nice": false, "zero": false}, "axis": null}, "y": {"field": "value", "type": "quantitative", "scale": {"domain": [-9.7, 134.7], "nice": false, "zero": false}, "axis": {"values": [0, 50, 100], "title": null, "labels": false, "ticks": false, "domain": false, "grid": true}}}}
              ]},
              {"width": 260, "height": 165, "transform": [{"filter": {"field": "country", "equal": "Greece"}}], "layer": [
                {"transform": [{"aggregate": [{"op": "count", "as": "n"}], "groupby": ["country"]}], "mark": {"type": "rect", "color": "#D9E6EB"}, "encoding": {"x": {"datum": 1963.8, "type": "quantitative", "axis": null}, "x2": {"datum": 2012.3}, "y": {"datum": 110.2, "type": "quantitative", "axis": {"values": [0, 50, 100], "title": null, "labels": false, "ticks": false, "domain": false, "grid": true}}, "y2": {"datum": 134.7}}},
                {"transform": [{"aggregate": [{"op": "count", "as": "n"}], "groupby": ["country"]}], "mark": {"type": "text", "fontSize": 20, "color": "#000000", "font": "Liberation Sans"}, "encoding": {"x": {"datum": 1988.05, "type": "quantitative", "axis": null}, "y": {"datum": 122.45, "type": "quantitative", "axis": {"values": [0, 50, 100], "title": null, "labels": false, "ticks": false, "domain": false, "grid": true}}, "text": {"field": "country"}}},
                {"mark": {"type": "line", "color": "#1A476F", "strokeWidth": 1.5}, "encoding": {"x": {"field": "year", "type": "quantitative", "scale": {"domain": [1963.8, 2012.3], "nice": false, "zero": false}, "axis": null}, "y": {"field": "value", "type": "quantitative", "scale": {"domain": [-9.7, 134.7], "nice": false, "zero": false}, "axis": {"values": [0, 50, 100], "title": null, "labels": false, "ticks": false, "domain": false, "grid": true}}}}
              ]},
              {"width": 260, "height": 165, "transform": [{"filter": {"field": "country", "equal": "Ireland"}}], "layer": [
                {"transform": [{"aggregate": [{"op": "count", "as": "n"}], "groupby": ["country"]}], "mark": {"type": "rect", "color": "#D9E6EB"}, "encoding": {"x": {"datum": 1963.8, "type": "quantitative", "axis": null}, "x2": {"datum": 2012.3}, "y": {"datum": 110.2, "type": "quantitative", "axis": {"values": [0, 50, 100], "title": null, "labels": false, "ticks": false, "domain": false, "grid": true}}, "y2": {"datum": 134.7}}},
                {"transform": [{"aggregate": [{"op": "count", "as": "n"}], "groupby": ["country"]}], "mark": {"type": "text", "fontSize": 20, "color": "#000000", "font": "Liberation Sans"}, "encoding": {"x": {"datum": 1988.05, "type": "quantitative", "axis": null}, "y": {"datum": 122.45, "type": "quantitative", "axis": {"values": [0, 50, 100], "title": null, "labels": false, "ticks": false, "domain": false, "grid": true}}, "text": {"field": "country"}}},
                {"mark": {"type": "line", "color": "#1A476F", "strokeWidth": 1.5}, "encoding": {"x": {"field": "year", "type": "quantitative", "scale": {"domain": [1963.8, 2012.3], "nice": false, "zero": false}, "axis": null}, "y": {"field": "value", "type": "quantitative", "scale": {"domain": [-9.7, 134.7], "nice": false, "zero": false}, "axis": {"values": [0, 50, 100], "title": null, "labels": false, "ticks": false, "domain": false, "grid": true}}}}
              ]}
            ]},
            {"spacing": 28.2, "hconcat": [
              {"width": 260, "height": 165, "transform": [{"filter": {"field": "country", "equal": "Italy"}}], "layer": [
                {"transform": [{"aggregate": [{"op": "count", "as": "n"}], "groupby": ["country"]}], "mark": {"type": "rect", "color": "#D9E6EB"}, "encoding": {"x": {"datum": 1963.8, "type": "quantitative", "axis": null}, "x2": {"datum": 2012.3}, "y": {"datum": 110.2, "type": "quantitative", "axis": {"orient": "left", "values": [0, 50, 100], "title": null, "labelAngle": 270, "labelAlign": "center", "labelBaseline": "bottom", "tickSize": 7, "labelPadding": 5, "grid": true, "domainDash": [137, 200]}}, "y2": {"datum": 134.7}}},
                {"transform": [{"aggregate": [{"op": "count", "as": "n"}], "groupby": ["country"]}], "mark": {"type": "text", "fontSize": 20, "color": "#000000", "font": "Liberation Sans"}, "encoding": {"x": {"datum": 1988.05, "type": "quantitative", "axis": null}, "y": {"datum": 122.45, "type": "quantitative", "axis": {"orient": "left", "values": [0, 50, 100], "title": null, "labelAngle": 270, "labelAlign": "center", "labelBaseline": "bottom", "tickSize": 7, "labelPadding": 5, "grid": true, "domainDash": [137, 200]}}, "text": {"field": "country"}}},
                {"mark": {"type": "line", "color": "#1A476F", "strokeWidth": 1.5}, "encoding": {"x": {"field": "year", "type": "quantitative", "scale": {"domain": [1963.8, 2012.3], "nice": false, "zero": false}, "axis": null}, "y": {"field": "value", "type": "quantitative", "scale": {"domain": [-9.7, 134.7], "nice": false, "zero": false}, "axis": {"orient": "left", "values": [0, 50, 100], "title": null, "labelAngle": 270, "labelAlign": "center", "labelBaseline": "bottom", "tickSize": 7, "labelPadding": 5, "grid": true, "domainDash": [137, 200]}}}}
              ]},
              {"width": 260, "height": 165, "transform": [{"filter": {"field": "country", "equal": "Japan"}}], "layer": [
                {"transform": [{"aggregate": [{"op": "count", "as": "n"}], "groupby": ["country"]}], "mark": {"type": "rect", "color": "#D9E6EB"}, "encoding": {"x": {"datum": 1963.8, "type": "quantitative", "axis": null}, "x2": {"datum": 2012.3}, "y": {"datum": 110.2, "type": "quantitative", "axis": {"values": [0, 50, 100], "title": null, "labels": false, "ticks": false, "domain": false, "grid": true}}, "y2": {"datum": 134.7}}},
                {"transform": [{"aggregate": [{"op": "count", "as": "n"}], "groupby": ["country"]}], "mark": {"type": "text", "fontSize": 20, "color": "#000000", "font": "Liberation Sans"}, "encoding": {"x": {"datum": 1988.05, "type": "quantitative", "axis": null}, "y": {"datum": 122.45, "type": "quantitative", "axis": {"values": [0, 50, 100], "title": null, "labels": false, "ticks": false, "domain": false, "grid": true}}, "text": {"field": "country"}}},
                {"mark": {"type": "line", "color": "#1A476F", "strokeWidth": 1.5}, "encoding": {"x": {"field": "year", "type": "quantitative", "scale": {"domain": [1963.8, 2012.3], "nice": false, "zero": false}, "axis": null}, "y": {"field": "value", "type": "quantitative", "scale": {"domain": [-9.7, 134.7], "nice": false, "zero": false}, "axis": {"values": [0, 50, 100], "title": null, "labels": false, "ticks": false, "domain": false, "grid": true}}}}
              ]},
              {"width": 260, "height": 165, "transform": [{"filter": {"field": "country", "equal": "Netherlands"}}], "layer": [
                {"transform": [{"aggregate": [{"op": "count", "as": "n"}], "groupby": ["country"]}], "mark": {"type": "rect", "color": "#D9E6EB"}, "encoding": {"x": {"datum": 1963.8, "type": "quantitative", "axis": null}, "x2": {"datum": 2012.3}, "y": {"datum": 110.2, "type": "quantitative", "axis": {"values": [0, 50, 100], "title": null, "labels": false, "ticks": false, "domain": false, "grid": true}}, "y2": {"datum": 134.7}}},
                {"transform": [{"aggregate": [{"op": "count", "as": "n"}], "groupby": ["country"]}], "mark": {"type": "text", "fontSize": 20, "color": "#000000", "font": "Liberation Sans"}, "encoding": {"x": {"datum": 1988.05, "type": "quantitative", "axis": null}, "y": {"datum": 122.45, "type": "quantitative", "axis": {"values": [0, 50, 100], "title": null, "labels": false, "ticks": false, "domain": false, "grid": true}}, "text": {"field": "country"}}},
                {"mark": {"type": "line", "color": "#1A476F", "strokeWidth": 1.5}, "encoding": {"x": {"field": "year", "type": "quantitative", "scale": {"domain": [1963.8, 2012.3], "nice": false, "zero": false}, "axis": null}, "y": {"field": "value", "type": "quantitative", "scale": {"domain": [-9.7, 134.7], "nice": false, "zero": false}, "axis": {"values": [0, 50, 100], "title": null, "labels": false, "ticks": false, "domain": false, "grid": true}}}}
              ]},
              {"width": 260, "height": 165, "transform": [{"filter": {"field": "country", "equal": "New Zealand"}}], "layer": [
                {"transform": [{"aggregate": [{"op": "count", "as": "n"}], "groupby": ["country"]}], "mark": {"type": "rect", "color": "#D9E6EB"}, "encoding": {"x": {"datum": 1963.8, "type": "quantitative", "axis": null}, "x2": {"datum": 2012.3}, "y": {"datum": 110.2, "type": "quantitative", "axis": {"values": [0, 50, 100], "title": null, "labels": false, "ticks": false, "domain": false, "grid": true}}, "y2": {"datum": 134.7}}},
                {"transform": [{"aggregate": [{"op": "count", "as": "n"}], "groupby": ["country"]}], "mark": {"type": "text", "fontSize": 20, "color": "#000000", "font": "Liberation Sans"}, "encoding": {"x": {"datum": 1988.05, "type": "quantitative", "axis": null}, "y": {"datum": 122.45, "type": "quantitative", "axis": {"values": [0, 50, 100], "title": null, "labels": false, "ticks": false, "domain": false, "grid": true}}, "text": {"field": "country"}}},
                {"mark": {"type": "line", "color": "#1A476F", "strokeWidth": 1.5}, "encoding": {"x": {"field": "year", "type": "quantitative", "scale": {"domain": [1963.8, 2012.3], "nice": false, "zero": false}, "axis": null}, "y": {"field": "value", "type": "quantitative", "scale": {"domain": [-9.7, 134.7], "nice": false, "zero": false}, "axis": {"values": [0, 50, 100], "title": null, "labels": false, "ticks": false, "domain": false, "grid": true}}}}
              ]},
              {"width": 260, "height": 165, "transform": [{"filter": {"field": "country", "equal": "Norway"}}], "layer": [
                {"transform": [{"aggregate": [{"op": "count", "as": "n"}], "groupby": ["country"]}], "mark": {"type": "rect", "color": "#D9E6EB"}, "encoding": {"x": {"datum": 1963.8, "type": "quantitative", "axis": null}, "x2": {"datum": 2012.3}, "y": {"datum": 110.2, "type": "quantitative", "axis": {"values": [0, 50, 100], "title": null, "labels": false, "ticks": false, "domain": false, "grid": true}}, "y2": {"datum": 134.7}}},
                {"transform": [{"aggregate": [{"op": "count", "as": "n"}], "groupby": ["country"]}], "mark": {"type": "text", "fontSize": 20, "color": "#000000", "font": "Liberation Sans"}, "encoding": {"x": {"datum": 1988.05, "type": "quantitative", "axis": null}, "y": {"datum": 122.45, "type": "quantitative", "axis": {"values": [0, 50, 100], "title": null, "labels": false, "ticks": false, "domain": false, "grid": true}}, "text": {"field": "country"}}},
                {"mark": {"type": "line", "color": "#1A476F", "strokeWidth": 1.5}, "encoding": {"x": {"field": "year", "type": "quantitative", "scale": {"domain": [1963.8, 2012.3], "nice": false, "zero": false}, "axis": null}, "y": {"field": "value", "type": "quantitative", "scale": {"domain": [-9.7, 134.7], "nice": false, "zero": false}, "axis": {"values": [0, 50, 100], "title": null, "labels": false, "ticks": false, "domain": false, "grid": true}}}}
              ]}
            ]},
            {"spacing": 28.2, "bounds": "flush", "hconcat": [
              {"width": 260, "height": 165, "transform": [{"filter": {"field": "country", "equal": "Portugal"}}], "layer": [
                {"transform": [{"aggregate": [{"op": "count", "as": "n"}], "groupby": ["country"]}], "mark": {"type": "rect", "color": "#D9E6EB"}, "encoding": {"x": {"datum": 1963.8, "type": "quantitative", "axis": null}, "x2": {"datum": 2012.3}, "y": {"datum": 110.2, "type": "quantitative", "axis": {"orient": "left", "values": [0, 50, 100], "title": null, "labelAngle": 270, "labelAlign": "center", "labelBaseline": "bottom", "tickSize": 7, "labelPadding": 5, "grid": true, "domainDash": [137, 200]}}, "y2": {"datum": 134.7}}},
                {"transform": [{"aggregate": [{"op": "count", "as": "n"}], "groupby": ["country"]}], "mark": {"type": "text", "fontSize": 20, "color": "#000000", "font": "Liberation Sans"}, "encoding": {"x": {"datum": 1988.05, "type": "quantitative", "axis": null}, "y": {"datum": 122.45, "type": "quantitative", "axis": {"orient": "left", "values": [0, 50, 100], "title": null, "labelAngle": 270, "labelAlign": "center", "labelBaseline": "bottom", "tickSize": 7, "labelPadding": 5, "grid": true, "domainDash": [137, 200]}}, "text": {"field": "country"}}},
                {"mark": {"type": "line", "color": "#1A476F", "strokeWidth": 1.5}, "encoding": {"x": {"field": "year", "type": "quantitative", "scale": {"domain": [1963.8, 2012.3], "nice": false, "zero": false}, "axis": null}, "y": {"field": "value", "type": "quantitative", "scale": {"domain": [-9.7, 134.7], "nice": false, "zero": false}, "axis": {"orient": "left", "values": [0, 50, 100], "title": null, "labelAngle": 270, "labelAlign": "center", "labelBaseline": "bottom", "tickSize": 7, "labelPadding": 5, "grid": true, "domainDash": [137, 200]}}}}
              ]},
              {"width": 260, "height": 165, "transform": [{"filter": {"field": "country", "equal": "Spain"}}], "layer": [
                {"transform": [{"aggregate": [{"op": "count", "as": "n"}], "groupby": ["country"]}], "mark": {"type": "rect", "color": "#D9E6EB"}, "encoding": {"x": {"datum": 1963.8, "type": "quantitative", "axis": null}, "x2": {"datum": 2012.3}, "y": {"datum": 110.2, "type": "quantitative", "axis": {"values": [0, 50, 100], "title": null, "labels": false, "ticks": false, "domain": false, "grid": true}}, "y2": {"datum": 134.7}}},
                {"transform": [{"aggregate": [{"op": "count", "as": "n"}], "groupby": ["country"]}], "mark": {"type": "text", "fontSize": 20, "color": "#000000", "font": "Liberation Sans"}, "encoding": {"x": {"datum": 1988.05, "type": "quantitative", "axis": null}, "y": {"datum": 122.45, "type": "quantitative", "axis": {"values": [0, 50, 100], "title": null, "labels": false, "ticks": false, "domain": false, "grid": true}}, "text": {"field": "country"}}},
                {"mark": {"type": "line", "color": "#1A476F", "strokeWidth": 1.5}, "encoding": {"x": {"field": "year", "type": "quantitative", "scale": {"domain": [1963.8, 2012.3], "nice": false, "zero": false}, "axis": null}, "y": {"field": "value", "type": "quantitative", "scale": {"domain": [-9.7, 134.7], "nice": false, "zero": false}, "axis": {"values": [0, 50, 100], "title": null, "labels": false, "ticks": false, "domain": false, "grid": true}}}}
              ]},
              {"width": 260, "height": 165, "transform": [{"filter": {"field": "country", "equal": "Sweden"}}], "layer": [
                {"transform": [{"aggregate": [{"op": "count", "as": "n"}], "groupby": ["country"]}], "mark": {"type": "rect", "color": "#D9E6EB"}, "encoding": {"x": {"datum": 1963.8, "type": "quantitative", "axis": {"values": [1970, 1980, 1990, 2000, 2010], "format": "d", "title": null, "tickSize": 8, "labelPadding": 4, "labelFontSize": 18, "grid": false, "labelFlush": false, "labelOverlap": false}}, "x2": {"datum": 2012.3}, "y": {"datum": 110.2, "type": "quantitative", "axis": {"values": [0, 50, 100], "title": null, "labels": false, "ticks": false, "domain": false, "grid": true}}, "y2": {"datum": 134.7}}},
                {"transform": [{"aggregate": [{"op": "count", "as": "n"}], "groupby": ["country"]}], "mark": {"type": "text", "fontSize": 20, "color": "#000000", "font": "Liberation Sans"}, "encoding": {"x": {"datum": 1988.05, "type": "quantitative", "axis": {"values": [1970, 1980, 1990, 2000, 2010], "format": "d", "title": null, "tickSize": 8, "labelPadding": 4, "labelFontSize": 18, "grid": false, "labelFlush": false, "labelOverlap": false}}, "y": {"datum": 122.45, "type": "quantitative", "axis": {"values": [0, 50, 100], "title": null, "labels": false, "ticks": false, "domain": false, "grid": true}}, "text": {"field": "country"}}},
                {"mark": {"type": "line", "color": "#1A476F", "strokeWidth": 1.5}, "encoding": {"x": {"field": "year", "type": "quantitative", "scale": {"domain": [1963.8, 2012.3], "nice": false, "zero": false}, "axis": {"values": [1970, 1980, 1990, 2000, 2010], "format": "d", "title": null, "tickSize": 8, "labelPadding": 4, "labelFontSize": 18, "grid": false, "labelFlush": false, "labelOverlap": false}}, "y": {"field": "value", "type": "quantitative", "scale": {"domain": [-9.7, 134.7], "nice": false, "zero": false}, "axis": {"values": [0, 50, 100], "title": null, "labels": false, "ticks": false, "domain": false, "grid": true}}}}
              ]},
              {"width": 260, "height": 165, "transform": [{"filter": {"field": "country", "equal": "Switzerland"}}], "layer": [
                {"transform": [{"aggregate": [{"op": "count", "as": "n"}], "groupby": ["country"]}], "mark": {"type": "rect", "color": "#D9E6EB"}, "encoding": {"x": {"datum": 1963.8, "type": "quantitative", "axis": {"values": [1970, 1980, 1990, 2000, 2010], "format": "d", "title": null, "tickSize": 8, "labelPadding": 4, "labelFontSize": 18, "grid": false, "labelFlush": false, "labelOverlap": false}}, "x2": {"datum": 2012.3}, "y": {"datum": 110.2, "type": "quantitative", "axis": {"values": [0, 50, 100], "title": null, "labels": false, "ticks": false, "domain": false, "grid": true}}, "y2": {"datum": 134.7}}},
                {"transform": [{"aggregate": [{"op": "count", "as": "n"}], "groupby": ["country"]}], "mark": {"type": "text", "fontSize": 20, "color": "#000000", "font": "Liberation Sans"}, "encoding": {"x": {"datum": 1988.05, "type": "quantitative", "axis": {"values": [1970, 1980, 1990, 2000, 2010], "format": "d", "title": null, "tickSize": 8, "labelPadding": 4, "labelFontSize": 18, "grid": false, "labelFlush": false, "labelOverlap": false}}, "y": {"datum": 122.45, "type": "quantitative", "axis": {"values": [0, 50, 100], "title": null, "labels": false, "ticks": false, "domain": false, "grid": true}}, "text": {"field": "country"}}},
                {"mark": {"type": "line", "color": "#1A476F", "strokeWidth": 1.5}, "encoding": {"x": {"field": "year", "type": "quantitative", "scale": {"domain": [1963.8, 2012.3], "nice": false, "zero": false}, "axis": {"values": [1970, 1980, 1990, 2000, 2010], "format": "d", "title": null, "tickSize": 8, "labelPadding": 4, "labelFontSize": 18, "grid": false, "labelFlush": false, "labelOverlap": false}}, "y": {"field": "value", "type": "quantitative", "scale": {"domain": [-9.7, 134.7], "nice": false, "zero": false}, "axis": {"values": [0, 50, 100], "title": null, "labels": false, "ticks": false, "domain": false, "grid": true}}}}
              ]},
              {"width": 260, "height": 165, "transform": [{"filter": {"field": "country", "equal": "United Kingdom"}}], "layer": [
                {"transform": [{"aggregate": [{"op": "count", "as": "n"}], "groupby": ["country"]}], "mark": {"type": "rect", "color": "#D9E6EB"}, "encoding": {"x": {"datum": 1963.8, "type": "quantitative", "axis": {"values": [1970, 1980, 1990, 2000, 2010], "format": "d", "title": null, "tickSize": 8, "labelPadding": 4, "labelFontSize": 18, "grid": false, "labelFlush": false, "labelOverlap": false}}, "x2": {"datum": 2012.3}, "y": {"datum": 110.2, "type": "quantitative", "axis": {"values": [0, 50, 100], "title": null, "labels": false, "ticks": false, "domain": false, "grid": true}}, "y2": {"datum": 134.7}}},
                {"transform": [{"aggregate": [{"op": "count", "as": "n"}], "groupby": ["country"]}], "mark": {"type": "text", "fontSize": 20, "color": "#000000", "font": "Liberation Sans"}, "encoding": {"x": {"datum": 1988.05, "type": "quantitative", "axis": {"values": [1970, 1980, 1990, 2000, 2010], "format": "d", "title": null, "tickSize": 8, "labelPadding": 4, "labelFontSize": 18, "grid": false, "labelFlush": false, "labelOverlap": false}}, "y": {"datum": 122.45, "type": "quantitative", "axis": {"values": [0, 50, 100], "title": null, "labels": false, "ticks": false, "domain": false, "grid": true}}, "text": {"field": "country"}}},
                {"mark": {"type": "line", "color": "#1A476F", "strokeWidth": 1.5}, "encoding": {"x": {"field": "year", "type": "quantitative", "scale": {"domain": [1963.8, 2012.3], "nice": false, "zero": false}, "axis": {"values": [1970, 1980, 1990, 2000, 2010], "format": "d", "title": null, "tickSize": 8, "labelPadding": 4, "labelFontSize": 18, "grid": false, "labelFlush": false, "labelOverlap": false}}, "y": {"field": "value", "type": "quantitative", "scale": {"domain": [-9.7, 134.7], "nice": false, "zero": false}, "axis": {"values": [0, 50, 100], "title": null, "labels": false, "ticks": false, "domain": false, "grid": true}}}}
              ]}
            ]}
          ]
        },
        {"width": 260, "height": 165, "transform": [{"filter": {"field": "country", "equal": "United States"}}], "layer": [
          {"transform": [{"aggregate": [{"op": "count", "as": "n"}], "groupby": ["country"]}], "mark": {"type": "rect", "color": "#D9E6EB"}, "encoding": {"x": {"datum": 1963.8, "type": "quantitative", "axis": {"values": [1970, 1980, 1990, 2000, 2010], "format": "d", "title": null, "tickSize": 8, "labelPadding": 4, "labelFontSize": 18, "grid": false, "labelFlush": false, "labelOverlap": false}}, "x2": {"datum": 2012.3}, "y": {"datum": 110.2, "type": "quantitative", "axis": {"orient": "left", "values": [0, 50, 100], "title": null, "labelAngle": 270, "labelAlign": "center", "labelBaseline": "bottom", "tickSize": 7, "labelPadding": 5, "grid": true, "domainDash": [137, 200]}}, "y2": {"datum": 134.7}}},
          {"transform": [{"aggregate": [{"op": "count", "as": "n"}], "groupby": ["country"]}], "mark": {"type": "text", "fontSize": 20, "color": "#000000", "font": "Liberation Sans"}, "encoding": {"x": {"datum": 1988.05, "type": "quantitative", "axis": {"values": [1970, 1980, 1990, 2000, 2010], "format": "d", "title": null, "tickSize": 8, "labelPadding": 4, "labelFontSize": 18, "grid": false, "labelFlush": false, "labelOverlap": false}}, "y": {"datum": 122.45, "type": "quantitative", "axis": {"orient": "left", "values": [0, 50, 100], "title": null, "labelAngle": 270, "labelAlign": "center", "labelBaseline": "bottom", "tickSize": 7, "labelPadding": 5, "grid": true, "domainDash": [137, 200]}}, "text": {"field": "country"}}},
          {"mark": {"type": "line", "color": "#1A476F", "strokeWidth": 1.5}, "encoding": {"x": {"field": "year", "type": "quantitative", "scale": {"domain": [1963.8, 2012.3], "nice": false, "zero": false}, "axis": {"values": [1970, 1980, 1990, 2000, 2010], "format": "d", "title": null, "tickSize": 8, "labelPadding": 4, "labelFontSize": 18, "grid": false, "labelFlush": false, "labelOverlap": false}}, "y": {"field": "value", "type": "quantitative", "scale": {"domain": [-9.7, 134.7], "nice": false, "zero": false}, "axis": {"orient": "left", "values": [0, 50, 100], "title": null, "labelAngle": 270, "labelAlign": "center", "labelBaseline": "bottom", "tickSize": 7, "labelPadding": 5, "grid": true, "domainDash": [137, 200]}}}}
        ]}
      ]
    }
  ]
}
